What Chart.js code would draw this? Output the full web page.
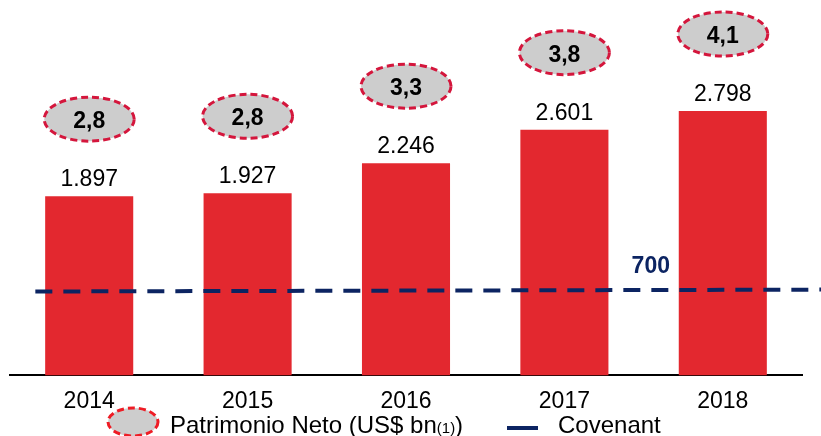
<!DOCTYPE html>
<html>
<head>
<meta charset="utf-8">
<script src="https://cdn.jsdelivr.net/npm/chart.js@4.4.1/dist/chart.umd.min.js"></script>
<style>
  body { margin: 0; background: #fff; }
  #wrap { width: 821px; height: 436px; }
</style>
</head>
<body>
<div id="wrap"><canvas id="chart" width="821" height="436"></canvas></div>
<script>
// data
const years = ['2014', '2015', '2016', '2017', '2018'];
const patrimonio = [1897, 1927, 2246, 2601, 2798];     // bars
const ratio = [2.8, 2.8, 3.3, 3.8, 4.1];               // values in the ellipses
const covenantX = [-0.34, 4.62];                       // where the dashed line starts / ends
const covenantY = [888, 908];                          // drawn height of the covenant line
const covenantLabel = '700';

const RED = '#e3282f';
const NAVY = '#0c2462';

function fmtThousands(v) {
    return String(v).replace(/\B(?=(\d{3})+(?!\d))/g, '.');
}

function dashedEllipse(ctx, cx, cy, rx, ry, stroke) {
    ctx.save();
    ctx.beginPath();
    ctx.ellipse(cx, cy, rx, ry, 0, 0, Math.PI * 2);
    ctx.fillStyle = '#cdcdcd';
    ctx.fill();
    ctx.setLineDash([7, 4]);
    ctx.lineWidth = 3;
    ctx.strokeStyle = stroke;
    ctx.stroke();
    ctx.restore();
}

const labelsPlugin = {
    id: 'labels',
    afterDatasetsDraw(chart) {
        const ctx = chart.ctx;
        const meta = chart.getDatasetMeta(1);
        meta.data.forEach((bar, i) => {
            // value above the bar
            ctx.save();
            ctx.font = '23px Arial, "Liberation Sans", sans-serif';
            ctx.fillStyle = '#000';
            ctx.textAlign = 'center';
            ctx.textBaseline = 'alphabetic';
            ctx.fillText(fmtThousands(patrimonio[i]), bar.x, bar.y - 10);
            // ellipse with ratio
            const cy = bar.y - 77;
            dashedEllipse(ctx, bar.x, cy, 45, 22, '#d4163c');
            ctx.font = 'bold 23px Arial, "Liberation Sans", sans-serif';
            ctx.fillStyle = '#000';
            ctx.fillText(ratio[i].toFixed(1).replace('.', ','), bar.x, cy + 9);
            ctx.restore();
        });
        // covenant value
        const x2 = chart.scales.x2, y = chart.scales.y;
        ctx.save();
        ctx.font = 'bold 23px Arial, "Liberation Sans", sans-serif';
        ctx.fillStyle = NAVY;
        ctx.textAlign = 'left';
        ctx.fillText(covenantLabel, x2.getPixelForValue(3.5) - 12, y.getPixelForValue(covenantY[1]) - 17);
        ctx.restore();
    },
    afterDraw(chart) {
        const ctx = chart.ctx;
        ctx.save();
        // legend: Patrimonio Neto
        dashedEllipse(ctx, 133, 422, 25, 14, '#ee1c25');
        ctx.fillStyle = '#000';
        ctx.textBaseline = 'alphabetic';
        ctx.textAlign = 'left';
        let x = 170;
        ctx.font = '24px Arial, "Liberation Sans", sans-serif';
        const t1 = 'Patrimonio Neto (US$ bn';
        ctx.fillText(t1, x, 433);
        x += ctx.measureText(t1).width;
        ctx.font = '15px Arial, "Liberation Sans", sans-serif';
        ctx.fillText('(1)', x, 433);
        x += ctx.measureText('(1)').width;
        ctx.font = '24px Arial, "Liberation Sans", sans-serif';
        ctx.fillText(')', x, 433);
        // legend: Covenant
        ctx.fillStyle = NAVY;
        ctx.fillRect(507, 426, 31, 4);
        ctx.fillStyle = '#000';
        ctx.fillText('Covenant', 558, 433);
        ctx.restore();
    }
};

const ctx = document.getElementById('chart').getContext('2d');
const chart = new Chart(ctx, {
    type: 'bar',
    data: {
        labels: years,
        datasets: [{
            type: 'line',
            label: 'Covenant',
            data: covenantX.map((v, i) => ({ x: v, y: covenantY[i] })),
            xAxisID: 'x2',
            borderColor: NAVY,
            borderWidth: 4,
            borderDash: [17, 11],
            pointRadius: 0,
            fill: false,
            clip: false,
            order: 0
        }, {
            label: 'Patrimonio Neto',
            data: patrimonio,
            backgroundColor: RED,
            grouped: false,
            categoryPercentage: 1,
            barPercentage: 0.556,
            order: 1
        }]
    },
    options: {
        responsive: false,
        animation: false,
        devicePixelRatio: 1,
        layout: { padding: { left: 10, right: 19, top: 0, bottom: 9 } },
        plugins: { legend: { display: false }, tooltip: { enabled: false } },
        scales: {
            x: {
                grid: { display: false, drawTicks: false },
                border: { display: true, color: '#000', width: 2 },
                ticks: {
                    color: '#000',
                    padding: 12,
                    font: { family: 'Arial, "Liberation Sans", sans-serif', size: 23 }
                }
            },
            x2: { type: 'linear', display: false, offset: false, min: -0.5, max: 4.5,
                  grid: { offset: false } },
            y: { display: false, min: 0, max: 3973 }
        }
    },
    plugins: [labelsPlugin]
});
</script>
</body>
</html>
